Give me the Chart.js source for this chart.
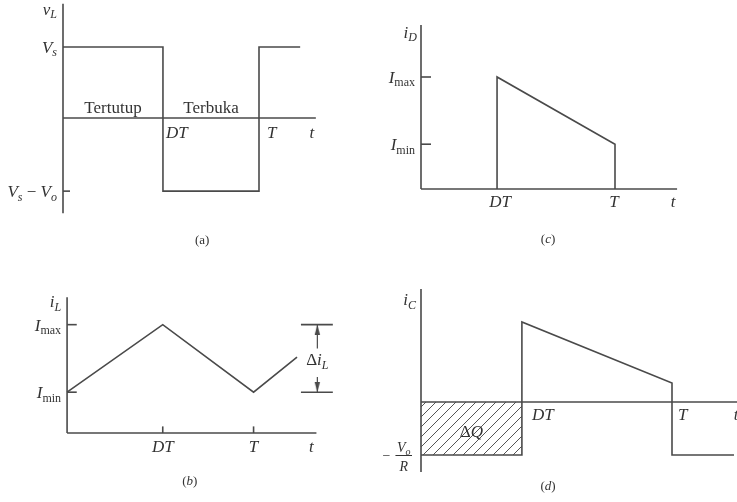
<!DOCTYPE html>
<html lang="id">
<head>
<meta charset="UTF-8">
<title>Bentuk gelombang konverter boost</title>
<script src="https://cdn.jsdelivr.net/npm/chart.js"></script>
<style>
    * { margin: 0; padding: 0; box-sizing: border-box; }
    body { background: #fff; }
    #figure { position: relative; width: 737px; height: 502px; overflow: hidden; background: #fff; }
    #figure canvas { position: absolute; }
</style>
</head>
<body>
<div id="figure">
    <canvas id="panelA" width="368" height="250" style="left:0;top:0"></canvas>
    <canvas id="panelC" width="369" height="250" style="left:368px;top:0"></canvas>
    <canvas id="panelB" width="368" height="252" style="left:0;top:250px"></canvas>
    <canvas id="panelD" width="369" height="252" style="left:368px;top:250px"></canvas>
</div>
<script>
// (a) tegangan induktor v_L, satu periode T = 1
const aTime = [0, 0.51, 0.51, 1, 1, 1.21];
const aVolt = [1, 1, -1.03, -1.03, 1, 1];
const aMarks = [0.51, 1];                 // DT, T
const aLevels = [1, -1.03];
const aLevelText = ['V_s', 'V_s − V_o'];
const aStates = ['Tertutup', 'Terbuka'];

// (b) arus induktor i_L
const bTime = [0, 0.513, 1, 1.233];
const bCurrent = [0.377, 1, 0.377, 0.70];
const bMarks = [0.513, 1];
const bLevels = [1, 0.377];
const bLevelText = ['I_{max}', 'I_{min}'];

// (c) arus dioda i_D
const cTime = [0.392, 0.392, 1, 1];
const cCurrent = [0, 1, 0.40, 0];
const cMarks = [0.392, 1];
const cLevels = [1, 0.40];
const cLevelText = ['I_{max}', 'I_{min}'];

// (d) arus kapasitor i_C (satuan V_o/R)
const dTime = [0, 0.402, 0.402, 1, 1, 1.247];
const dCurrent = [-1, -1, 1.51, 0.36, -1, -1];
const dMarks = [0.402, 1];

const markText = ['DT', 'T'];

const LINE = '#4a4a4a';
const TEXT = '#333';
const SERIF = '"Liberation Serif", "Times New Roman", serif';

// kotak tiap panel: posisi kanvas + titik asal sumbu dan skala px per satuan
const panels = {
    panelA: { left: 0,   top: 0,   w: 368, h: 250, ox: 63,  oy: 118, kx: 196, ky: 71 },
    panelB: { left: 0,   top: 250, w: 368, h: 252, ox: 63,  oy: 436, kx: 193, ky: 114 },
    panelC: { left: 368, top: 0,   w: 369, h: 250, ox: 421, oy: 189, kx: 194, ky: 112 },
    panelD: { left: 368, top: 250, w: 369, h: 252, ox: 421, oy: 402, kx: 251, ky: 53 }
};

// teks per kanvas, digambar oleh plugin mathText
const panelText = {};

function parseRuns(str, roman) {
    const runs = [];
    const push = (t, italic, sub) => {
        const last = runs[runs.length - 1];
        if (last && last.italic === italic && last.sub === sub) last.t += t;
        else runs.push({ t, italic, sub });
    };
    for (let i = 0; i < str.length; i++) {
        const ch = str[i];
        if (ch === '_') {
            if (str[i + 1] === '{') {
                const end = str.indexOf('}', i);
                push(str.slice(i + 2, end), false, true);
                i = end;
            } else {
                i++;
                push(str[i], !roman, true);
            }
        } else {
            push(ch, !roman && /[A-Za-z]/.test(ch), false);
        }
    }
    return runs;
}

function runFont(r, size) {
    return (r.italic ? 'italic ' : '') + (r.sub ? Math.round(size * 0.7) : size) + 'px ' + SERIF;
}

function measureRuns(ctx, runs, size) {
    let total = 0;
    runs.forEach(r => {
        ctx.font = runFont(r, size);
        r.w = ctx.measureText(r.t).width;
        total += r.w;
    });
    return total;
}

function drawRuns(ctx, runs, x, y, align, size) {
    const total = measureRuns(ctx, runs, size);
    let cx = align === 'right' ? x - total : align === 'center' ? x - total / 2 : x;
    runs.forEach(r => {
        ctx.font = runFont(r, size);
        ctx.fillText(r.t, cx, y + (r.sub ? size * 0.2 : 0));
        cx += r.w;
    });
}

// −V_o/R : x,y = ujung kanan garis pecahan
function drawFraction(ctx, it, x, y) {
    const size = 14;
    const num = parseRuns(it.num), den = parseRuns(it.den);
    const barW = Math.max(measureRuns(ctx, num, size), measureRuns(ctx, den, size)) + 3;
    const left = x - barW;
    ctx.save();
    ctx.strokeStyle = TEXT;
    ctx.lineWidth = 1;
    ctx.beginPath();
    ctx.moveTo(left, y + 0.5);
    ctx.lineTo(x, y + 0.5);
    ctx.stroke();
    ctx.restore();
    drawRuns(ctx, num, left + barW / 2, y - 3, 'center', size);
    drawRuns(ctx, den, left + barW / 2, y + 16, 'center', size);
    ctx.font = size + 'px ' + SERIF;
    ctx.textAlign = 'right';
    ctx.fillText('−', left - 5, y + 5);
    ctx.textAlign = 'left';
}

const mathText = {
    id: 'mathText',
    afterDatasetsDraw(chart) {
        const items = panelText[chart.canvas.id] || [];
        const { ctx, scales } = chart;
        ctx.save();
        ctx.fillStyle = TEXT;
        ctx.textBaseline = 'alphabetic';
        ctx.textAlign = 'left';
        items.forEach(it => {
            const px = scales.x.getPixelForValue(it.x) + (it.dx || 0);
            const py = scales.y.getPixelForValue(it.y) + (it.dy || 0);
            if (it.num) drawFraction(ctx, it, px, py);
            else drawRuns(ctx, parseRuns(it.text, it.roman), px, py, it.align || 'center', it.size || 17);
        });
        ctx.restore();
    }
};

function trace(xs, ys, extra) {
    return Object.assign({
        data: xs.map((x, i) => ({ x, y: ys[i] })),
        borderColor: LINE,
        borderWidth: 1.6,
        pointRadius: 0,
        fill: false,
        tension: 0,
        clip: false,
        borderJoinStyle: 'miter'
    }, extra || {});
}

function makePanel(id, datasets, labels) {
    const p = panels[id];
    panelText[id] = labels;
    return new Chart(document.getElementById(id), {
        type: 'line',
        data: { datasets },
        options: {
            responsive: false,
            animation: false,
            events: [],
            layout: { padding: 0 },
            plugins: { legend: { display: false }, tooltip: { enabled: false } },
            scales: {
                x: { type: 'linear', display: false, min: -(p.ox - p.left) / p.kx, max: (p.left + p.w - p.ox) / p.kx },
                y: { type: 'linear', display: false, min: -(p.top + p.h - p.oy) / p.ky, max: (p.oy - p.top) / p.ky }
            }
        },
        plugins: [mathText]
    });
}

// ujung panah sempit, ujungnya tepat di tengah sprite
function arrowSprite() {
    const c = document.createElement('canvas');
    c.width = 7; c.height = 20;
    const g = c.getContext('2d');
    g.fillStyle = LINE;
    g.beginPath();
    g.moveTo(3.5, 10);
    g.lineTo(0.8, 20);
    g.lineTo(6.2, 20);
    g.closePath();
    g.fill();
    return c;
}

function hatchPattern(id) {
    const c = document.createElement('canvas');
    c.width = 10; c.height = 10;
    const g = c.getContext('2d');
    g.strokeStyle = '#555';
    g.lineWidth = 1;
    g.beginPath();
    g.moveTo(-1, 11); g.lineTo(11, -1);
    g.moveTo(-1, 1); g.lineTo(1, -1);
    g.moveTo(9, 11); g.lineTo(11, 9);
    g.stroke();
    return document.getElementById(id).getContext('2d').createPattern(c, 'repeat');
}

// ---- (a) ----
const aAxis = { top: 1.61, bottom: -1.34, right: 1.29 };
makePanel('panelA', [
    trace(aTime, aVolt),
    trace([0, 0], [aAxis.top, aAxis.bottom]),
    trace([0, aAxis.right], [0, 0]),
    trace([0, 7 / panels.panelA.kx], [aLevels[1], aLevels[1]])
], [
    { x: 0, y: aAxis.top, dx: -6, dy: 11, align: 'right', text: 'v_L' },
    { x: 0, y: aLevels[0], dx: -6, dy: 6, align: 'right', text: aLevelText[0] },
    { x: 0, y: aLevels[1], dx: -6, dy: 6, align: 'right', text: aLevelText[1] },
    { x: aMarks[0] / 2, y: 0, dy: -5, text: aStates[0], roman: true },
    { x: (aMarks[0] + aMarks[1]) / 2, y: 0, dy: -5, text: aStates[1], roman: true },
    { x: aMarks[0], y: 0, dx: 3, dy: 20, align: 'left', text: markText[0] },
    { x: aMarks[1], y: 0, dx: 8, dy: 20, align: 'left', text: markText[1] },
    { x: aAxis.right, y: 0, dx: -4, dy: 20, text: 't' },
    { x: 0.71, y: -1.775, text: '(a)', roman: true, size: 13 }
]);

// ---- (b) ----
const bAxis = { top: 1.254, right: 1.337 };
const bRipple = { x0: 1.254, x1: 1.425, arrow: 1.342, gapTop: 0.78, gapBottom: 0.518 };
const arrow = arrowSprite();
makePanel('panelB', [
    trace(bTime, bCurrent),
    trace([0, 0], [bAxis.top, 0]),
    trace([0, bAxis.right], [0, 0]),
    trace([0, 10 / panels.panelB.kx], [bLevels[0], bLevels[0]]),
    trace([0, 10 / panels.panelB.kx], [bLevels[1], bLevels[1]]),
    trace([bMarks[0], bMarks[0]], [0, 7 / panels.panelB.ky]),
    trace([bMarks[1], bMarks[1]], [0, 7 / panels.panelB.ky]),
    trace([bRipple.x0, bRipple.x1], [bLevels[0], bLevels[0]]),
    trace([bRipple.x0, bRipple.x1], [bLevels[1], bLevels[1]]),
    trace([bRipple.arrow, bRipple.arrow], [bRipple.gapTop, bLevels[0]],
        { borderWidth: 1.2, pointRadius: [0, 5], pointStyle: arrow, pointRotation: 0 }),
    trace([bRipple.arrow, bRipple.arrow], [bRipple.gapBottom, bLevels[1]],
        { borderWidth: 1.2, pointRadius: [0, 5], pointStyle: arrow, pointRotation: 180 })
], [
    { x: 0, y: bAxis.top, dx: -6, dy: 10, align: 'right', text: 'i_L' },
    { x: 0, y: bLevels[0], dx: -6, dy: 6, align: 'right', text: bLevelText[0] },
    { x: 0, y: bLevels[1], dx: -6, dy: 6, align: 'right', text: bLevelText[1] },
    { x: bMarks[0], y: 0, dy: 19, text: markText[0] },
    { x: bMarks[1], y: 0, dy: 19, text: markText[1] },
    { x: bAxis.right, y: 0, dx: -5, dy: 19, text: 't' },
    { x: bRipple.arrow, y: (bLevels[0] + bLevels[1]) / 2, dy: 7, text: 'Δi_L' },
    { x: 0.658, y: -0.482, text: '(b)', size: 13 }
]);

// ---- (c) ----
const cAxis = { top: 1.464, right: 1.32 };
makePanel('panelC', [
    trace(cTime, cCurrent),
    trace([0, 0], [cAxis.top, 0]),
    trace([0, cAxis.right], [0, 0]),
    trace([0, 10 / panels.panelC.kx], [cLevels[0], cLevels[0]]),
    trace([0, 10 / panels.panelC.kx], [cLevels[1], cLevels[1]])
], [
    { x: 0, y: cAxis.top, dx: -4, dy: 13, align: 'right', text: 'i_D' },
    { x: 0, y: cLevels[0], dx: -6, dy: 6, align: 'right', text: cLevelText[0] },
    { x: 0, y: cLevels[1], dx: -6, dy: 6, align: 'right', text: cLevelText[1] },
    { x: cMarks[0], y: 0, dx: 3, dy: 18, text: markText[0] },
    { x: cMarks[1], y: 0, dx: -1, dy: 18, text: markText[1] },
    { x: cAxis.right, y: 0, dx: -4, dy: 18, text: 't' },
    { x: 0.655, y: -0.482, text: '(c)', size: 13 }
]);

// ---- (d) ----
const dAxis = { top: 2.13, bottom: -1.32, right: 1.3 };
makePanel('panelD', [
    trace(dTime, dCurrent),
    trace([0, 0], [dAxis.top, dAxis.bottom]),
    trace([0, dAxis.right], [0, 0]),
    // muatan ΔQ yang dilepas kapasitor selama saklar tertutup
    trace([0, dMarks[0]], [-1, -1], {
        borderColor: 'rgba(0,0,0,0)', fill: 'origin', backgroundColor: hatchPattern('panelD')
    })
], [
    { x: 0, y: dAxis.top, dx: -5, dy: 16, align: 'right', text: 'i_C' },
    { x: dMarks[0], y: 0, dx: 10, dy: 18, align: 'left', text: markText[0] },
    { x: dMarks[1], y: 0, dx: 6, dy: 18, align: 'left', text: markText[1] },
    { x: 1.255, y: 0, dy: 18, text: 't' },
    { x: dMarks[0] / 2, y: -0.5, dy: 8, text: 'ΔQ' },
    { x: 0, y: -1, dx: -9, num: 'V_o', den: 'R' },
    { x: 0.506, y: -1.66, text: '(d)', size: 13 }
]);
</script>
</body>
</html>
